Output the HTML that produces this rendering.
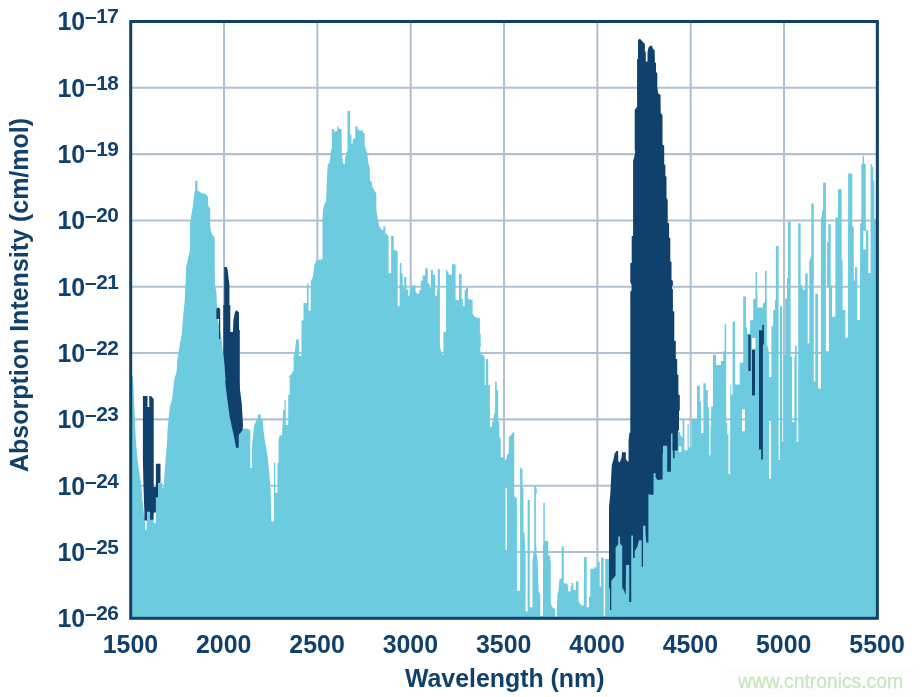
<!DOCTYPE html>
<html><head><meta charset="utf-8"><title>chart</title><style>
html,body{margin:0;padding:0;background:#fff}
body{width:922px;height:697px;position:relative;overflow:hidden;font-family:"Liberation Sans",sans-serif;color:#0f416c}
.t{position:absolute;font-weight:bold;font-size:24.9px;line-height:1;white-space:nowrap}
.yl{right:803.55px;text-align:right}
.yl sup{font-size:20.8px;vertical-align:baseline;position:relative;top:-7.0px;line-height:0;letter-spacing:-0.45px}
.xl{transform:translateX(-50%)}
</style></head><body>
<svg width="922" height="697" viewBox="0 0 922 697" style="position:absolute;left:0;top:0">
<rect width="922" height="697" fill="#fff"/>
<g stroke="#b0c1d1" stroke-width="2.1" fill="none"><line x1="224.03" y1="21.50" x2="224.03" y2="618.30"/><line x1="317.36" y1="21.50" x2="317.36" y2="618.30"/><line x1="410.69" y1="21.50" x2="410.69" y2="618.30"/><line x1="504.03" y1="21.50" x2="504.03" y2="618.30"/><line x1="597.36" y1="21.50" x2="597.36" y2="618.30"/><line x1="690.69" y1="21.50" x2="690.69" y2="618.30"/><line x1="784.02" y1="21.50" x2="784.02" y2="618.30"/><line x1="130.70" y1="87.81" x2="877.35" y2="87.81"/><line x1="130.70" y1="154.12" x2="877.35" y2="154.12"/><line x1="130.70" y1="220.43" x2="877.35" y2="220.43"/><line x1="130.70" y1="286.74" x2="877.35" y2="286.74"/><line x1="130.70" y1="353.06" x2="877.35" y2="353.06"/><line x1="130.70" y1="419.37" x2="877.35" y2="419.37"/><line x1="130.70" y1="485.68" x2="877.35" y2="485.68"/><line x1="130.70" y1="551.99" x2="877.35" y2="551.99"/></g>
<path d="M131 618 L131 376 L132.5 376 L133 378 L135.8 440 L137.5 460 L140 477 L141.5 487 L142.4 500 L144 515 L145 522 L145 530 L146.7 530 L146.7 505 L153.6 505 L153.6 523 L155.9 523 L155.9 497 L158 497 L158 482.5 L162.3 482.5 L162.3 487.7 L163.5 487.7 L165.3 463 L167.2 440 L167.5 430 L169.8 407 L171.9 400 L174.5 378 L176.6 372 L177.3 360 L179 350 L180.3 342 L181.7 335 L183.4 313 L184.8 300 L185.5 285 L186 268 L187.7 260 L190.1 250 L190.1 223 L191 217 L191.7 213 L193 205 L194.3 193 L195.2 190 L195.2 181 L197.5 181 L197.5 190.6 L202 193.2 L206 194 L208 197 L208.2 205.6 L210.2 208.8 L210.2 220 L209.9 222.5 L210.9 231 L212.5 235 L214.7 237.5 L214.7 260 L215 285 L216.4 292 L216.9 305 L218 320 L221.6 339 L223 353 L224.2 365 L225 380 L232 380 L238 430 L238.7 429.4 L246.5 428.6 L250.3 430 L250.3 468 L252 468 L252 445 L252.6 440 L254.3 425 L256.7 419.5 L258 418.6 L258 414.3 L260.6 414.3 L260.6 418.6 L262.6 419.5 L263.1 424 L263.4 430 L264.8 440 L267.4 455 L269 470 L270.5 487 L271.4 521.6 L274 521.6 L274 462.6 L275.3 462.6 L275.3 493 L277.4 493 L277.4 463 L278.6 463 L278.6 440 L279.5 435.5 L282 435.5 L283.2 410 L284.5 410 L284.5 400 L285.8 400 L285.8 425 L288.2 425 L288.2 394.7 L289.7 394.7 L289.7 377.4 L288.4 376 L291 375 L293.6 370 L293.6 356.8 L294.9 350.8 L296.2 339.5 L298.9 339.5 L298.9 356 L301.5 356 L301.5 320.4 L303.5 320.4 L303.5 303 L306.9 303 L306.9 283.75 L308.6 283.75 L308.6 310.8 L310.7 310.8 L310.7 289.8 L310.9 281 L313 276.8 L314.2 265.5 L316.5 260.3 L321.7 259.4 L322.5 258 L322.5 217.8 L323 210.8 L324.3 203.9 L326 202 L326.4 195 L326.7 183 L327.7 165 L329.7 162 L331 150 L331.9 148 L331.9 129 L334.1 129 L334.1 132.3 L335.2 132.3 L335.2 131 L337.1 131 L337.1 126.2 L338.4 126.2 L338.4 128.4 L339.7 128.4 L339.7 129 L341.7 129 L341.7 153.2 L342.3 157 L343 163.6 L343.4 163.9 L344.9 163.9 L345 157 L345.6 157 L346.2 155 L346.9 151.2 L347.5 151.2 L347.5 110.9 L350.1 110.9 L350.1 134.3 L351.4 135 L351.4 143.5 L352.7 143.7 L352.7 140 L354 138.2 L355.3 138.2 L355.3 126.5 L357.6 126.5 L357.6 129.7 L359.2 129.7 L359.2 130.4 L363.2 130.4 L363.2 133 L364.6 133 L364.7 145.4 L365.8 149.3 L367 152.5 L367.7 157 L368.4 163.6 L369.7 167.5 L370 180.5 L371.6 181.8 L372.3 186.4 L374.2 190.3 L376.3 193.5 L376.4 210.8 L378.1 220.4 L379 225.6 L381.6 230 L383.3 230 L383.3 226.5 L385.4 226.5 L385.4 233.4 L387.6 235 L388.5 237 L388.5 273 L391.1 273 L391.1 236 L393.7 236 L393.7 250 L397.2 250.8 L397.7 252 L397.7 306.3 L399.6 306.3 L399.8 262.9 L401.5 262.9 L401.5 273.6 L402.7 273.6 L402.7 285.5 L404.2 285.5 L404.2 277 L406.4 277 L406.4 289.5 L408.2 289.5 L408.2 295.7 L409.5 295.7 L410.8 285.5 L415.5 285.5 L415.6 292 L417.4 293.8 L419.1 293.8 L419.1 290.3 L420.8 290.3 L420.8 280.8 L422.6 280.8 L422.6 275.6 L425.2 275.6 L425.2 268.2 L427.7 268.2 L427.8 283.4 L429.5 283.4 L429.5 287.7 L430.9 287.7 L430.9 270.2 L433 270.2 L433 274.8 L435.2 274.8 L435.2 295.8 L437 295.8 L437 289.5 L437.8 289.5 L437.8 269.3 L439.9 269.3 L439.9 347 L442.5 355 L443.4 355 L443.4 332 L444.8 332 L446 331 L446 269.2 L448.6 273 L448.6 274.7 L452 274.7 L452 264.3 L455.6 264.3 L455.6 299.9 L459 299.9 L459 273.9 L461.6 273.9 L461.6 299 L462.8 299 L462.8 306 L464.6 306 L464.6 290.3 L466 290.3 L466 287.7 L468 287.7 L468 298.2 L469.4 299.4 L472.6 299.4 L472.6 313.8 L474.7 316.4 L477.3 318.1 L479.9 318.1 L479.9 333.75 L480.7 333.75 L480.7 344.2 L481.2 346 L480.3 346 L480.3 354 L483 355 L484.7 357 L484.7 385 L485.9 385 L485.9 359 L488.2 359 L488.2 385 L489.9 385 L489.9 426.8 L492.2 426.8 L492.2 421.6 L493.4 421.6 L493.9 414.7 L495.1 412 L495.1 381.7 L496.8 381.7 L496.8 390.3 L498.2 390.3 L498.2 421.6 L499.4 421.6 L499.4 436.4 L500.8 439 L500.8 457.3 L503.1 457.3 L503.1 459 L505.9 460 L507.3 454.6 L508.8 453 L508.8 437.4 L510.4 435.6 L514.2 431.3 L514.2 496.4 L516.5 498.1 L516.9 498.1 L516.9 590.7 L520.1 590.7 L520.1 467.7 L521.7 467.7 L521.7 469.5 L522.5 469.5 L522.5 487.7 L523.4 487.7 L523.4 532 L524.5 532.8 L525.6 556 L525.6 611.6 L527.6 611.6 L527.6 499.9 L529.8 499.9 L529.8 607.2 L532.5 607.2 L532.5 559.5 L533.75 551.7 L534.2 551.7 L534.2 486 L535.9 486 L535.9 488.6 L536.8 488.6 L536.8 493.8 L535.9 493.8 L535.9 546.5 L536.5 546.5 L536.5 553.4 L537.7 562 L538.6 591.6 L540.3 595 L540.3 615.9 L543 615.9 L543 544.7 L543.3 544.7 L543.3 503 L544.8 503 L544.8 541 L548.2 541 L548.2 555 L549.9 556 L550.8 563.8 L550.8 603.75 L552.5 607.2 L555.1 609.8 L555.1 616.8 L556.8 616.8 L556.8 614 L557.4 595 L558.6 589.9 L559.4 579.4 L561.2 578.6 L561.7 578.6 L561.7 546.5 L563.8 546.5 L563.8 582.9 L567.3 583.8 L568.1 586.4 L568.1 591.6 L570.7 591.6 L570.7 586.4 L571.6 586.4 L571.6 582.9 L573.3 582.9 L573.3 589.9 L575.9 589.9 L575.9 581.5 L578.5 581.5 L578.5 600.3 L580.3 604.6 L582 605.5 L583.75 605.5 L584.1 556.9 L586.7 556.9 L586.7 607.2 L589 607.2 L589 596.8 L590.3 596.8 L590.3 568.7 L594.2 568.7 L594.2 567.3 L597.6 567.3 L597.6 562 L599.7 562 L599.7 586.4 L601.1 586.4 L601.1 557.7 L603.7 557.7 L603.7 616 L605.1 616 L605.1 559 L608.5 559 L610.5 559 L610.5 520 L640 520 L652 470 L664 440 L672 430 L676 425 L678 425 L678 432 L680 432 L680 435 L682.6 437.5 L682.6 420 L684.4 420 L684.4 450.2 L687.5 450.2 L687.5 424 L688.7 424 L688.7 447.5 L691.7 447.5 L691.7 419 L697 419 L697 385.7 L699.8 385.7 L699.8 401.6 L701 401.6 L701 433 L703.4 433 L703.4 383.3 L705.8 383.3 L705.8 389.9 L707.8 389.9 L707.8 407.3 L709.1 407.3 L709.1 455.4 L710.5 455.4 L710.5 426 L711.1 426 L711.1 406.6 L713 406.6 L713 354.8 L716 354.8 L716 365 L721 365 L721 361 L723.4 361 L723.4 351.2 L724.6 351.2 L724.6 324.2 L726.2 324.2 L726.2 423 L727.3 423 L727.3 434.6 L728.4 434.6 L728.4 474 L730.2 474 L730.2 384.4 L730.9 384.4 L730.9 394.4 L732.6 394.4 L732.6 321.4 L735 321.4 L735 384.4 L739.7 384.4 L739.7 362.7 L743.2 362.7 L743.2 296.5 L745.9 296.5 L745.9 327.5 L747.1 327.5 L747.1 333.6 L750.1 333.6 L750.1 320.2 L753.2 320.2 L753.2 299 L755.5 299 L755.5 272.3 L757 272.3 L757 290 L757.4 290 L757.4 307.5 L762.9 307.5 L762.9 303.2 L764.3 303.2 L765 300 L765 270.8 L766.6 270.8 L766.6 300 L766.8 300 L766.8 342.7 L768.4 349.4 L769 355.5 L769 377.1 L771.4 377.1 L771.4 326.3 L773.2 326.3 L773.2 310 L775 310 L775 300 L775.9 300 L775.9 246 L778.6 246 L778.6 460 L780 460 L780 306.3 L782.2 306.3 L782.2 441.7 L783.75 441.7 L783.75 355 L785.2 355 L785.2 298.4 L787 298.4 L787 278 L788 278 L788 221.6 L790.65 221.6 L790.65 356.7 L792 356.7 L792 422 L794.3 422 L794.3 356.7 L794.9 356.7 L794.9 345.7 L796.7 345.7 L796.7 442 L798.2 442 L798.2 223.2 L800.6 223.2 L800.6 284.8 L801.6 284.8 L801.6 288 L802.8 288 L802.8 289.8 L805.2 289.8 L805.2 273.5 L807.7 273.5 L807.7 343.3 L809.3 343.3 L809.3 262 L811.3 255 L811.3 203.5 L813.8 203.5 L813.8 381.4 L815.3 381.4 L815.3 293.8 L818.1 293.8 L818.1 388.6 L820.9 388.6 L820.9 221.5 L821 217.3 L822 217.3 L822 210.6 L823.1 210.6 L823.1 182.8 L825.9 182.8 L825.9 351.2 L828.9 351.2 L828.9 286.8 L827.1 286.8 L827.1 242.3 L828.3 242.3 L828.3 224.2 L830.7 224.2 L830.7 285.5 L832 285.5 L832 316.8 L835.4 316.8 L835.4 217.5 L838 217.5 L838 189.3 L841.7 189.3 L841.7 260.6 L842.6 260.6 L842.6 309.9 L845.3 309.9 L845.3 337.8 L848 337.8 L848.1 173.5 L852.3 173.5 L852.3 226.4 L853.8 226.4 L853.8 280.6 L855 280.6 L855 267.2 L857.2 267.2 L857.2 320 L860 320 L860.1 223.4 L861.3 223.4 L861.3 163.8 L862.6 163.8 L862.6 155.9 L864.1 155.9 L864.1 163.8 L865.7 163.8 L865.7 210 L866 230.2 L868.3 230.2 L868.3 273 L870.6 273 L870.6 164.2 L872 164.2 L872 166.9 L873.3 166.9 L873.3 180.8 L874.4 180.8 L874.4 219 L876.5 219 L876.5 618 Z M505.5 487.7 L506.9 487.7 L506.9 550 L505.5 550 Z M863.3 230.8 L866 230.8 L866 249.6 L863.3 249.6 Z M742 409.3 L744.9 409.3 L744.9 431.2 L742 431.2 Z M752 338 L755.5 338 L755.5 348.6 L752 348.6 Z M769 421 L770.9 421 L770.9 478.7 L769 478.7 Z M678.8 446.3 L681.3 446.3 L681.3 451.9 L678.8 451.9 Z" fill="#6dcbe0" fill-rule="evenodd"/>
<polygon points="610,610 610,588.5 609,588.5 609,507 610.2,494.7 610.4,492 611.8,465 613.4,460 614.6,453.5 616.5,450.9 618.1,450.9 618.4,461.5 619.8,462.2 621.6,457.3 622,452.2 625.8,452.2 625.9,459 627.5,461.6 628.5,461.5 628.6,440.8 629.3,433.4 629.1,432.8 630.3,432.8 630.3,292 631.6,290 631.6,285 630.3,282 630.3,263 631.7,263 631.7,236 633.1,236 633.1,160 633.8,159 635.2,152 634.7,149.5 634.7,109.6 635.2,109.6 636.85,107 637.1,107 637.1,58.9 638,58.9 638,40.6 639.7,38.4 644.9,43.9 644.9,51.7 645.8,51.7 645.8,61.5 647.5,61.5 647.5,52.3 648.4,47.8 650.1,45.8 652.1,45.8 652.7,48.4 654.7,50.4 654.9,62.8 656,62.8 656,72.5 657.3,72.5 657.3,87.5 658.3,93.4 660.5,94.7 660.7,113 662.5,115 662.5,144.3 664.2,146 664.2,164.2 665.4,165 665.4,175.5 666.5,177 666.5,198 667.7,200 667.7,223 669.1,223 669.1,237.8 670.3,238 670.3,261.2 671.5,262 671.5,279.4 672.9,281 672.9,285 672,287 672,289 672.9,289 672.9,310.7 674.3,312 674.3,340.8 675.8,341 675.8,359 677.2,359 677.2,374.7 678.4,375 678.4,394.7 679.8,395 679.8,410.3 679,411 679,429.4 677.8,432 677.8,450.4 674.6,450.4 674.6,458.2 673.1,458.2 673.1,450.4 672.5,450.4 672.5,433.6 670.9,433.6 670.9,471.8 667.2,471.8 667.2,445.8 663,445.8 663,453.9 662.6,453.9 662.6,479.4 657.3,480 655.6,477 655.6,473.3 653.5,473.3 653.5,494.8 650.3,494.8 648.4,494 648.4,542.5 646.5,542.5 646.5,545.5 645.5,532 645.5,525.7 643,525.7 643,566.8 641.7,566.8 641.7,540.3 639,540.3 637.3,546.9 634.7,551.2 634.7,558 633,558 633,535.6 631.25,535.6 631.25,602 629.2,602 629.2,565 626,565 625.7,595.5 624.3,591 622.2,587.7 622.2,546 620,543.4 620,536.5 618.2,536.5 618.2,544.3 615.6,547.7 615.6,575.5 611.3,580.7 611.3,610" fill="#0f416c"/>
<polygon points="142.9,396 147.5,396 147.5,407 149.3,407 149.3,396 151,396 153.7,399 153.7,487 155.9,487 155.9,463.7 160.5,463.7 160.5,481.7 159.5,483 158,483 158,497 155.9,497.5 155.9,512.6 153.7,512.6 153.3,519.7 150.1,519.7 150.1,511.8 147,511.8 147,520.5 144.4,520.5 144.4,512 143.6,490 142.9,460" fill="#0f416c"/>
<polygon points="216.4,309 217.2,307.7 219.4,307.7 220.2,310 220.2,339 219,339 219,319 216.4,319" fill="#0f416c"/>
<polygon points="224.7,267 224.2,267 224.2,305 223.3,305 223.3,353 224.5,365 225.4,380 225.3,383 227.4,400 229.7,417 233,432 234.7,440 236,447.8 238.7,447.8 238.7,435 242.7,430 243,425 241.7,403 240,390 239.8,380 239.8,330 239,330 239,312 238.6,312 236.4,310.3 235,312 233.4,320 232.9,332 230.3,332 230.3,305 229.4,305 229.4,285 227.7,270 226.8,267" fill="#0f416c"/>
<polygon points="748.3,334.8 750.7,334.8 750.7,371 748.3,371" fill="#0f416c"/>
<polygon points="752,350 755,350 755,395.4 752,395.4" fill="#0f416c"/>
<polygon points="759,330.2 762.3,330.2 762.3,325 763.9,325 763.9,344.5 762.9,344.5 762.9,459.6 761.2,459.6 761.2,449.5 759,449.5" fill="#0f416c"/>
<rect x="130.70" y="21.50" width="746.65" height="596.80" fill="none" stroke="#0f416c" stroke-width="3"/>
</svg>
<div style="position:absolute;left:0;top:0;width:922px;height:697px;will-change:transform">
<div class="t yl" style="top:9.00px">10<sup>–17</sup></div>
<div class="t yl" style="top:76.00px">10<sup>–18</sup></div>
<div class="t yl" style="top:142.00px">10<sup>–19</sup></div>
<div class="t yl" style="top:208.00px">10<sup>–20</sup></div>
<div class="t yl" style="top:275.00px">10<sup>–21</sup></div>
<div class="t yl" style="top:341.00px">10<sup>–22</sup></div>
<div class="t yl" style="top:407.00px">10<sup>–23</sup></div>
<div class="t yl" style="top:474.00px">10<sup>–24</sup></div>
<div class="t yl" style="top:540.00px">10<sup>–25</sup></div>
<div class="t yl" style="top:606.00px">10<sup>–26</sup></div>
<div class="t xl" style="left:130.40px;top:632.01px">1500</div>
<div class="t xl" style="left:223.73px;top:632.01px">2000</div>
<div class="t xl" style="left:317.06px;top:632.01px">2500</div>
<div class="t xl" style="left:410.39px;top:632.01px">3000</div>
<div class="t xl" style="left:503.73px;top:632.01px">3500</div>
<div class="t xl" style="left:597.06px;top:632.01px">4000</div>
<div class="t xl" style="left:690.39px;top:632.01px">4500</div>
<div class="t xl" style="left:783.72px;top:632.01px">5000</div>
<div class="t xl" style="left:877.05px;top:632.01px">5500</div>
<div class="t xl" style="left:504.7px;top:666.11px;font-size:24.9px">Wavelength (nm)</div>
<div class="t" style="left:27.8px;top:294.7px;font-size:25px;transform-origin:0 0;transform:rotate(-90deg) translate(-50%,-21.18px)">Absorption Intensity (cm/mol)</div>
<div style="position:absolute;left:722px;top:668px;width:196px;height:29px;background:#fdfdfd"></div>
<div style="position:absolute;left:738px;top:671.95px;font-size:19.3px;line-height:1;color:#c6e7bd;-webkit-text-stroke:0.3px #c6e7bd;white-space:nowrap">www.cntronics.com</div>
</div>
</body></html>
